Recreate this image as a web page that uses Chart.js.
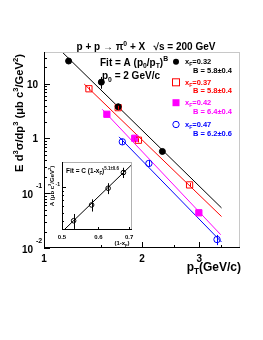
<!DOCTYPE html>
<html>
<head>
<meta charset="utf-8">
<script src="https://cdn.jsdelivr.net/npm/chart.js@4.4.0/dist/chart.umd.min.js"></script>
<style>
    body { margin: 0; background: #fff; }
    #wrap { position: relative; width: 263px; height: 340px; }
    #mainChart { position: absolute; left: 0; top: 0; }
    #insetChart { position: absolute; left: 30px; top: 150px; }
</style>
</head>
<body>
<div id="wrap">
    <canvas id="mainChart" width="263" height="340"></canvas>
    <canvas id="insetChart" width="110" height="100"></canvas>
</div>
<script>
// Data (pT in GeV/c, cross section in ub c^3/GeV^2)
const xfLabels = ['0.32', '0.37', '0.42', '0.47'];
const bLabels = ['5.8\u00b10.4', '5.8\u00b10.4', '6.4\u00b10.4', '6.2\u00b10.6'];

const pt32 = [1.19, 1.50, 1.69, 2.31];
const y32 = [26, 10.7, 3.8, 0.58];
const err32 = [2.0, 2.6, 0.5, 0.06];

const pt37 = [1.374, 1.69, 1.95, 2.80];
const y37 = [8.1, 3.66, 0.93, 0.142];
const err37 = [0.6, 0.3, 0.08, 0.012];

const pt42 = [1.56, 1.90, 2.99];
const y42 = [2.77, 1.01, 0.044];
const err42 = [0.25, 0.1, 0.004];

const pt47 = [1.74, 2.10, 3.40];
const y47 = [0.87, 0.35, 0.0143];
const err47 = [0.1, 0.04, 0.003];

// fit lines: end points as seen on the plot
const fitPt32 = [1.144, 3.51];
const fitY32 = [36.6, 0.054];
const fitPt37 = [1.329, 3.51];
const fitY37 = [9.87, 0.0376];
const fitPt42 = [1.51, 3.49];
const fitY42 = [3.41, 0.0175];
const fitPt47 = [1.70, 3.51];
const fitY47 = [1.07, 0.01285];

// inset: A vs (1 - xF)
const insetX = [0.53, 0.58, 0.63, 0.68];
const insetA = [0.0405, 0.0618, 0.0966, 0.147];
const insetErr = [0.008, 0.01, 0.014, 0.02];
const insetFitX = [0.503, 0.71];
const insetFitA = [0.031, 0.183];

// tick labels
const xTicks = [1, 2, 3];
const yTicks = [0.01, 0.1, 1, 10];
const yTickText = [['10', '-2'], ['10', '-1'], ['1', ''], ['10', '']];
const insetXTicks = [0.5, 0.6, 0.7];

const FONT = '"Liberation Sans", Arial, Helvetica, sans-serif';
const colors = ['#000000', '#ff0000', '#ff00ff', '#0000ff'];

function pts(xs, ys) {
    return xs.map((x, i) => ({ x: x, y: ys[i] }));
}

// draw text with sub/superscripts; runs = [[text, mode]], mode 1 = sup, -1 = sub
function drawRich(ctx, x, y, runs, size, color, align) {
    ctx.save();
    ctx.fillStyle = color;
    ctx.textBaseline = 'alphabetic';
    const fontOf = r => 'bold ' + (r[1] ? size * 0.68 : size) + 'px ' + FONT;
    const widths = runs.map(r => { ctx.font = fontOf(r); return ctx.measureText(r[0]).width; });
    const total = widths.reduce((a, b) => a + b, 0);
    let cx = x;
    if (align === 'center') cx = x - total / 2;
    if (align === 'right') cx = x - total;
    runs.forEach((r, i) => {
        ctx.font = fontOf(r);
        let dy = 0;
        if (r[1] === 1) dy = -size * 0.45;
        if (r[1] === -1) dy = size * 0.28;
        ctx.fillText(r[0], cx, y + dy);
        cx += widths[i];
    });
    ctx.restore();
}

function line(ctx, x1, y1, x2, y2, color, w) {
    ctx.strokeStyle = color;
    ctx.lineWidth = w || 1;
    ctx.beginPath();
    ctx.moveTo(x1, y1);
    ctx.lineTo(x2, y2);
    ctx.stroke();
}

function drawErrors(chart, sets) {
    const ctx = chart.ctx;
    const xs = chart.scales.x, ys = chart.scales.y;
    ctx.save();
    sets.forEach(s => {
        s.x.forEach((xv, i) => {
            const px = Math.round(xs.getPixelForValue(xv)) + 0.5;
            line(ctx, px, ys.getPixelForValue(s.y[i] - s.e[i]), px, ys.getPixelForValue(s.y[i] + s.e[i]), s.c, 1);
        });
    });
    ctx.restore();
}

// main plot decorations: frame, ticks, labels, legend
const mainDecor = {
    id: 'mainDecor',
    afterDatasetsDraw(chart) {
        drawErrors(chart, [
            { x: pt32, y: y32, e: err32, c: colors[0] },
            { x: pt37, y: y37, e: err37, c: colors[1] },
            { x: pt42, y: y42, e: err42, c: colors[2] },
            { x: pt47, y: y47, e: err47, c: colors[3] }
        ]);
    },
    afterDraw(chart) {
        const ctx = chart.ctx;
        const a = chart.chartArea;
        const xs = chart.scales.x, ys = chart.scales.y;
        ctx.save();

        // frame
        line(ctx, a.left, a.top + 0.5, a.right, a.top + 0.5, '#c8c8c8');
        line(ctx, a.right - 0.5, a.top, a.right - 0.5, a.bottom, '#c8c8c8');
        line(ctx, a.left + 0.5, a.top, a.left + 0.5, a.bottom, '#000');
        line(ctx, a.left, a.bottom - 0.5, a.right, a.bottom - 0.5, '#000');

        // y ticks (major + minor), inside the frame
        for (let d = -2; d <= 1; d++) {
            for (let m = 1; m <= 9; m++) {
                const v = m * Math.pow(10, d);
                if (v < ys.min || v > ys.max) continue;
                const py = Math.round(ys.getPixelForValue(v)) + 0.5;
                line(ctx, a.left, py, a.left + (m === 1 ? 6 : 3), py, '#000');
            }
        }
        // x ticks
        xTicks.forEach(v => {
            const px = Math.round(xs.getPixelForValue(v)) + 0.5;
            line(ctx, px, a.bottom, px, a.bottom - 6, '#000');
        });
        [1.5, 2.5, 3.5].forEach(v => {
            const px = Math.round(xs.getPixelForValue(v)) + 0.5;
            line(ctx, px, a.bottom, px, a.bottom - 3, '#000');
        });

        // tick labels
        xTicks.forEach(v => {
            drawRich(ctx, xs.getPixelForValue(v), a.bottom + 14, [[String(v), 0]], 10, '#000', 'center');
        });
        yTicks.forEach((v, i) => {
            const py = ys.getPixelForValue(v);
            const t = yTickText[i];
            if (t[1]) {
                drawRich(ctx, 33, py + 5, [[t[0], 0]], 10, '#000', 'right');
                drawRich(ctx, 36, py - 5, [[t[1], 0]], 7, '#000', 'left');
            } else {
                drawRich(ctx, 38, py + 4, [[t[0], 0]], 10, '#000', 'right');
            }
        });

        // axis titles
        drawRich(ctx, 241, 271, [['p', 0], ['T', -1], ['(GeV/c)', 0]], 12, '#000', 'right');
        ctx.save();
        ctx.translate(23, 113);
        ctx.rotate(-Math.PI / 2);
        drawRich(ctx, 0, 0, [['E d', 0], ['3', 1], ['\u03c3/dp', 0], ['3', 1], [' (\u03bcb c', 0], ['3', 1], ['/GeV', 0], ['2', 1], [')', 0]], 11.2, '#000', 'center');
        ctx.restore();

        // title and fit text
        drawRich(ctx, 146, 50, [['p + p \u2192 \u03c0', 0], ['0', 1], [' + X   \u221as = 200 GeV', 0]], 10, '#000', 'center');
        drawRich(ctx, 100, 65.5, [['Fit = A (p', 0], ['0', -1], ['/p', 0], ['T', -1], [')', 0], ['B', 1]], 10, '#000', 'left');
        drawRich(ctx, 102, 79, [['p', 0], ['0', -1], [' = 2 GeV/c', 0]], 10, '#000', 'left');

        // legend
        const rows = [61.7, 82.3, 102.7, 124.5];
        rows.forEach((ry, i) => {
            const c = colors[i];
            ctx.lineWidth = 1;
            ctx.strokeStyle = c;
            ctx.fillStyle = c;
            if (i === 0) {
                ctx.beginPath(); ctx.arc(176, ry, 3, 0, Math.PI * 2); ctx.fill();
            } else if (i === 1) {
                ctx.strokeRect(172.5, ry - 3.5, 7, 7);
            } else if (i === 2) {
                ctx.fillRect(172.5, ry - 3.5, 7, 7);
            } else {
                ctx.beginPath(); ctx.arc(176, ry, 3.2, 0, Math.PI * 2); ctx.stroke();
            }
            drawRich(ctx, 185, ry + 2.5, [['x', 0], ['F', -1], ['=' + xfLabels[i], 0]], 7.5, c, 'left');
            drawRich(ctx, 193, ry + 11, [['B = ' + bLabels[i], 0]], 7.5, c, 'left');
        });
        ctx.restore();
    }
};

const insetDecor = {
    id: 'insetDecor',
    beforeDatasetsDraw(chart) {
        const a = chart.chartArea;
        chart.ctx.save();
        chart.ctx.fillStyle = '#fff';
        chart.ctx.fillRect(a.left, a.top, a.right - a.left, a.bottom - a.top);
        chart.ctx.restore();
    },
    afterDatasetsDraw(chart) {
        drawErrors(chart, [{ x: insetX, y: insetA, e: insetErr, c: '#000' }]);
    },
    afterDraw(chart) {
        const ctx = chart.ctx;
        const a = chart.chartArea;
        const xs = chart.scales.x, ys = chart.scales.y;
        ctx.save();
        line(ctx, a.left, a.top + 0.5, a.right, a.top + 0.5, '#b0b0b0');
        line(ctx, a.right - 0.5, a.top, a.right - 0.5, a.bottom, '#b0b0b0');
        line(ctx, a.left + 0.5, a.top, a.left + 0.5, a.bottom, '#000');
        line(ctx, a.left, a.bottom - 0.5, a.right, a.bottom - 0.5, '#000');

        // y ticks
        [0.04, 0.05, 0.06, 0.07, 0.08, 0.09, 0.1, 0.2].forEach(v => {
            if (v < ys.min || v > ys.max) return;
            const py = Math.round(ys.getPixelForValue(v)) + 0.5;
            line(ctx, a.left, py, a.left + (v === 0.1 ? 4 : 2), py, '#000');
        });
        insetXTicks.forEach(v => {
            const px = Math.round(xs.getPixelForValue(v)) + 0.5;
            line(ctx, px, a.bottom, px, a.bottom - 3, '#000');
            drawRich(ctx, xs.getPixelForValue(v), a.bottom + 9, [[v.toFixed(1), 0]], 6, '#000', 'center');
        });
        drawRich(ctx, a.left - 2, ys.getPixelForValue(0.1) - 1, [['-1', 0]], 5, '#000', 'right');

        // titles
        drawRich(ctx, 92, 95, [['(1-x', 0], ['F', -1], [')', 0]], 6, '#000', 'center');
        ctx.save();
        ctx.translate(24, 36);
        ctx.rotate(-Math.PI / 2);
        drawRich(ctx, 0, 0, [['A (\u03bcb c', 0], ['3', 1], ['/GeV', 0], ['2', 1], [')', 0]], 6, '#000', 'center');
        ctx.restore();
        drawRich(ctx, a.left + 4, a.top + 11, [['Fit = C (1-x', 0], ['F', -1], [')', 0], ['5.1\u00b10.6', 1]], 6.5, '#000', 'left');
        ctx.restore();
    }
};

function scatterSet(data, color, style, radius, filled) {
    return {
        type: 'scatter',
        data: data,
        pointStyle: style,
        pointRadius: radius,
        pointBorderWidth: 1,
        pointBorderColor: color,
        pointBackgroundColor: filled ? color : 'rgba(0,0,0,0)',
        order: 1
    };
}

function fitSet(data, color) {
    return {
        type: 'line',
        data: data,
        borderColor: color,
        borderWidth: 1,
        pointRadius: 0,
        fill: false,
        order: 2
    };
}

function initializeMainChart() {
    const ctx = document.getElementById('mainChart').getContext('2d');
    new Chart(ctx, {
        type: 'scatter',
        data: {
            datasets: [
                scatterSet(pts(pt32, y32), colors[0], 'circle', 3, true),
                scatterSet(pts(pt37, y37), colors[1], 'rect', 4.4, false),
                scatterSet(pts(pt42, y42), colors[2], 'rect', 4.4, true),
                scatterSet(pts(pt47, y47), colors[3], 'circle', 3.2, false),
                fitSet(pts(fitPt32, fitY32), colors[0]),
                fitSet(pts(fitPt37, fitY37), colors[1]),
                fitSet(pts(fitPt42, fitY42), colors[2]),
                fitSet(pts(fitPt47, fitY47), colors[3])
            ]
        },
        options: {
            responsive: false,
            animation: false,
            devicePixelRatio: 1,
            layout: { padding: { left: 44, right: 23, top: 52, bottom: 92 } },
            plugins: { legend: { display: false }, tooltip: { enabled: false } },
            scales: {
                x: { type: 'logarithmic', min: 1, max: 4, display: false },
                y: { type: 'logarithmic', min: 0.01, max: 38, display: false }
            }
        },
        plugins: [mainDecor]
    });
}

function initializeInsetChart() {
    const ctx = document.getElementById('insetChart').getContext('2d');
    new Chart(ctx, {
        type: 'scatter',
        data: {
            datasets: [
                scatterSet(pts(insetX, insetA), '#000', 'circle', 2.3, false),
                fitSet(pts(insetFitX, insetFitA), '#000')
            ]
        },
        options: {
            responsive: false,
            animation: false,
            devicePixelRatio: 1,
            layout: { padding: { left: 32, right: 8, top: 12, bottom: 20 } },
            plugins: { legend: { display: false }, tooltip: { enabled: false } },
            scales: {
                x: { type: 'logarithmic', min: 0.5, max: 0.71, display: false },
                y: { type: 'logarithmic', min: 0.0316, max: 0.195, display: false }
            }
        },
        plugins: [insetDecor]
    });
}

document.addEventListener('DOMContentLoaded', function() {
    initializeMainChart();
    initializeInsetChart();
});
</script>
</body>
</html>
